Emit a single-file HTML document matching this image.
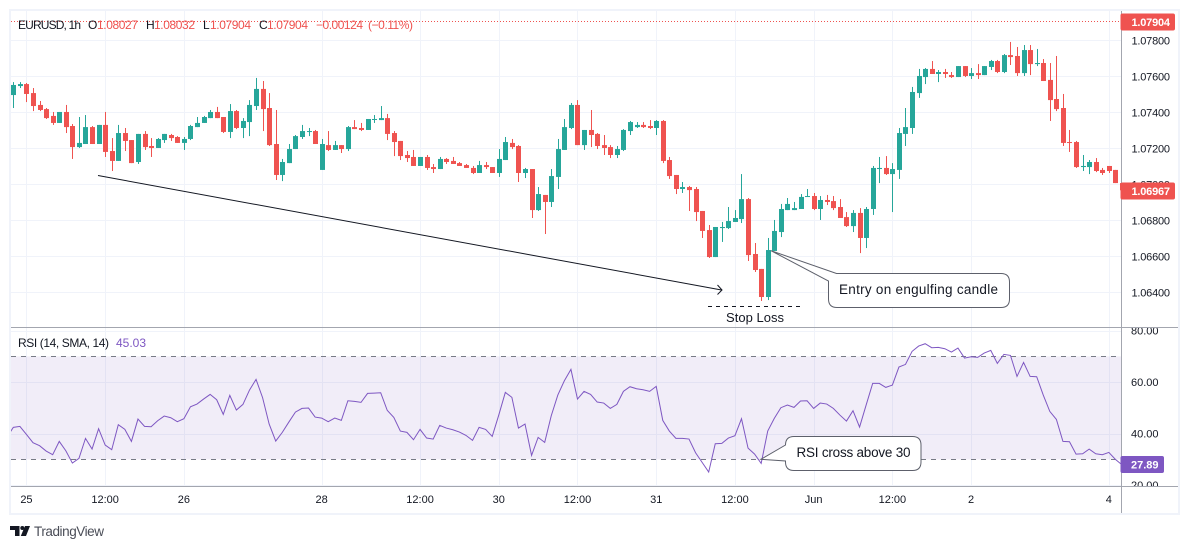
<!DOCTYPE html>
<html lang="en">
<head>
<meta charset="utf-8">
<title>EURUSD 1h chart with RSI</title>
<style>
html,body{margin:0;padding:0;background:#fff;width:1189px;height:549px;overflow:hidden}
svg{display:block;font-family:"Liberation Sans",sans-serif}
</style>
</head>
<body>
<svg id="chart" xmlns="http://www.w3.org/2000/svg" width="1189" height="549" viewBox="0 0 1189 549">
  <defs>
    <clipPath id="mainClip"><rect x="11" y="11" width="1110" height="316"/></clipPath>
    <clipPath id="rsiClip"><rect x="11" y="328" width="1110" height="158"/></clipPath>
    <clipPath id="rsiAxisClip"><rect x="1122" y="328" width="56" height="158"/></clipPath>
  </defs>
  <rect x="0" y="0" width="1189" height="549" fill="#ffffff"/>
  <g id="gridLayer"></g>
  <rect id="rsiBand" x="11" width="1110" fill="#7e57c2" fill-opacity="0.11"/>
  <line id="rsiUpper" x1="11" x2="1121" stroke="#787b86" stroke-dasharray="5 5"/>
  <line id="rsiLower" x1="11" x2="1121" stroke="#787b86" stroke-dasharray="5 5"/>
  <line x1="11" x2="1121" y1="21.5" y2="21.5" stroke="#ef5350" stroke-dasharray="1 2"/>
  <g id="candleLayer" clip-path="url(#mainClip)"></g>
  <g clip-path="url(#rsiClip)"><path id="rsiLine" fill="none" stroke="#7e57c2" stroke-width="1"/></g>

  <g font-size="12">
    <text x="18" y="29" textLength="63" fill="#131722">EURUSD, 1h</text>
    <text x="88" y="29" fill="#131722">O</text><text x="97" y="29" textLength="41" fill="#ef5350">1.08027</text>
    <text x="146" y="29" fill="#131722">H</text><text x="154" y="29" textLength="41" fill="#ef5350">1.08032</text>
    <text x="203" y="29" fill="#131722">L</text><text x="210" y="29" textLength="41" fill="#ef5350">1.07904</text>
    <text x="259" y="29" fill="#131722">C</text><text x="267" y="29" textLength="41" fill="#ef5350">1.07904</text>
    <text x="316" y="29" textLength="47" fill="#ef5350">−0.00124</text>
    <text x="368" y="29" textLength="45" fill="#ef5350">(−0.11%)</text>
  </g>
  <g font-size="12">
    <text x="18" y="347" textLength="91" fill="#131722">RSI (14, SMA, 14)</text>
    <text x="116" y="347" textLength="30" fill="#7e57c2">45.03</text>
  </g>

  <line x1="11" x2="1178" y1="327.5" y2="327.5" stroke="#a3a6af"/>
  <line x1="11" x2="1178" y1="486.5" y2="486.5" stroke="#a3a6af"/>
  <line x1="1121.5" x2="1121.5" y1="11" y2="513" stroke="#a3a6af"/>
  <g id="priceAxis" font-size="11" fill="#131722"></g>
  <g id="rsiAxis" font-size="11" fill="#131722" clip-path="url(#rsiAxisClip)"></g>
  <g id="timeAxis" font-size="11" fill="#131722" text-anchor="middle"></g>

  <g id="tags"></g>

  <g fill="none" stroke="#131722" stroke-width="1">
    <line x1="98" y1="175.5" x2="721.5" y2="290"/>
    <polyline points="717.5,285 722,290 717.5,294.5"/>
  </g>
  <line x1="708" x2="801" y1="306.5" y2="306.5" stroke="#131722" stroke-dasharray="4 4"/>
  <text x="726" y="322" font-size="13" textLength="58" fill="#131722">Stop Loss</text>

  <g>
    <path d="M836.5 273.5 H1001 Q1009.5 273.5 1009.5 282 V299 Q1009.5 307.5 1001 307.5 H837 Q828.5 307.5 828.5 299 V281 L771 250.7 Z" fill="#ffffff" stroke="#5d606b" stroke-width="1"/>
    <text x="839" y="294" font-size="13.5" textLength="159" fill="#131722">Entry on engulfing candle</text>
  </g>
  <g>
    <path d="M785.5 445 Q785.5 436.5 794 436.5 H912.5 Q921 436.5 921 445 V462 Q921 470.5 912.5 470.5 H794 Q785.5 470.5 785.5 462 V461 L761 459.3 Z" fill="#ffffff" stroke="#5d606b" stroke-width="1"/>
    <text x="796.5" y="457" font-size="13.5" textLength="114" fill="#131722">RSI cross above 30</text>
  </g>

  <rect x="10" y="10" width="1169" height="504" fill="none" stroke="#f0f3fa" stroke-width="2"/>

  <g>
    <path d="M10 526 H19.5 V536 H15 V530 H10 Z" fill="#131722"/>
    <circle cx="22.3" cy="528" r="2" fill="#131722"/>
    <path d="M25 526 H30 L26 536 H20.8 Z" fill="#131722"/>
    <text x="34" y="536" font-size="13.5" textLength="70" fill="#4a4d57">TradingView</text>
  </g>
</svg>
<script>
const opens = [
1.07496,1.07546,1.07557,1.07507,1.07441,1.07418,1.07380,1.07341,1.07402,1.07324,
1.07207,1.07224,1.07318,1.07224,1.07330,1.07185,1.07130,1.07285,1.07246,1.07124,
1.07280,1.07213,1.07202,1.07246,1.07274,1.07263,1.07230,1.07252,1.07318,1.07341,
1.07368,1.07402,1.07374,1.07291,1.07407,1.07313,1.07346,1.07435,1.07530,1.07424,
1.07224,1.07052,1.07118,1.07196,1.07263,1.07293,1.07296,1.07080,1.07218,1.07191,
1.07218,1.07196,1.07318,1.07313,1.07302,1.07359,1.07357,1.07368,1.07285,1.07241,
1.07163,1.07152,1.07102,1.07152,1.07096,1.07085,1.07141,1.07130,1.07118,1.07107,
1.07091,1.07063,1.07107,1.07096,1.07063,1.07135,1.07230,1.07213,1.07063,1.07085,
1.06857,1.06941,1.06902,1.07041,1.07191,1.07313,1.07441,1.07218,1.07302,1.07280,
1.07218,1.07207,1.07163,1.07191,1.07296,1.07318,1.07330,1.07324,1.07313,1.07352,
1.07135,1.07052,1.06974,1.06985,1.06974,1.06852,1.06746,1.06596,1.06757,1.06757,
1.06791,1.06807,1.06918,1.06613,1.06530,1.06374,1.06630,1.06735,1.06857,1.06857,
1.06863,1.06932,1.06935,1.06863,1.06913,1.06907,1.06874,1.06818,1.06768,1.06841,
1.06702,1.06863,1.07085,1.07091,1.07057,1.07080,1.07280,1.07313,1.07507,1.07596,
1.07641,1.07613,1.07624,1.07607,1.07596,1.07657,1.07602,1.07618,1.07607,1.07652,
1.07685,1.07624,1.07718,1.07713,1.07618,1.07746,1.07668,1.07674,1.07580,1.07474,
1.07424,1.07235,1.07235,1.07096,1.07096,1.07124,1.07080,1.07102,1.07080,1.07007];
const highs = [
1.07568,1.07568,1.07563,1.07535,1.07463,1.07424,1.07402,1.07402,1.07441,1.07335,
1.07374,1.07385,1.07324,1.07330,1.07402,1.07257,1.07330,1.07313,1.07246,1.07280,
1.07296,1.07257,1.07257,1.07280,1.07280,1.07268,1.07263,1.07330,1.07374,1.07380,
1.07413,1.07430,1.07374,1.07446,1.07413,1.07368,1.07468,1.07591,1.07574,1.07507,
1.07413,1.07141,1.07224,1.07274,1.07330,1.07313,1.07302,1.07252,1.07296,1.07241,
1.07218,1.07324,1.07357,1.07341,1.07363,1.07385,1.07435,1.07391,1.07296,1.07241,
1.07185,1.07191,1.07152,1.07163,1.07113,1.07152,1.07146,1.07152,1.07124,1.07113,
1.07102,1.07130,1.07124,1.07096,1.07196,1.07263,1.07252,1.07218,1.07091,1.07085,
1.06985,1.06941,1.07085,1.07252,1.07363,1.07452,1.07468,1.07302,1.07413,1.07285,
1.07274,1.07218,1.07213,1.07307,1.07352,1.07346,1.07346,1.07357,1.07357,1.07357,
1.07152,1.07052,1.07013,1.06991,1.06985,1.06852,1.06774,1.06763,1.06791,1.06874,
1.06857,1.07057,1.06924,1.06674,1.06530,1.06702,1.06802,1.06891,1.06924,1.06902,
1.06946,1.06974,1.06952,1.06935,1.06941,1.06935,1.06918,1.06846,1.06857,1.06868,
1.06874,1.07102,1.07152,1.07157,1.07118,1.07313,1.07424,1.07541,1.07641,1.07646,
1.07685,1.07635,1.07641,1.07624,1.07657,1.07657,1.07646,1.07668,1.07657,1.07691,
1.07691,1.07724,1.07791,1.07763,1.07774,1.07774,1.07752,1.07696,1.07674,1.07713,
1.07502,1.07302,1.07241,1.07163,1.07135,1.07146,1.07091,1.07102,1.07080,1.07007];
const lows = [
1.07424,1.07535,1.07457,1.07407,1.07407,1.07363,1.07330,1.07341,1.07285,1.07141,
1.07202,1.07224,1.07224,1.07224,1.07152,1.07074,1.07130,1.07185,1.07118,1.07113,
1.07191,1.07152,1.07202,1.07230,1.07241,1.07230,1.07191,1.07246,1.07318,1.07341,
1.07368,1.07368,1.07285,1.07257,1.07307,1.07257,1.07268,1.07413,1.07296,1.07213,
1.07024,1.07018,1.07118,1.07196,1.07252,1.07268,1.07224,1.07080,1.07185,1.07191,
1.07174,1.07185,1.07307,1.07296,1.07302,1.07341,1.07357,1.07246,1.07157,1.07135,
1.07124,1.07102,1.07102,1.07080,1.07063,1.07085,1.07113,1.07113,1.07102,1.07091,
1.07057,1.07063,1.07085,1.07063,1.07041,1.07135,1.07196,1.07013,1.07035,1.06813,
1.06852,1.06724,1.06874,1.06974,1.07191,1.07307,1.07218,1.07191,1.07207,1.07196,
1.07163,1.07146,1.07146,1.07185,1.07274,1.07313,1.07313,1.07307,1.07274,1.07118,
1.07030,1.06946,1.06952,1.06852,1.06796,1.06702,1.06591,1.06596,1.06680,1.06752,
1.06791,1.06785,1.06574,1.06513,1.06352,1.06357,1.06630,1.06707,1.06857,1.06857,
1.06863,1.06930,1.06857,1.06802,1.06885,1.06857,1.06813,1.06763,1.06735,1.06618,
1.06646,1.06830,1.07007,1.07052,1.06846,1.07030,1.07213,1.07280,1.07480,1.07557,
1.07613,1.07568,1.07591,1.07591,1.07596,1.07596,1.07585,1.07585,1.07607,1.07635,
1.07618,1.07618,1.07663,1.07602,1.07602,1.07607,1.07657,1.07574,1.07352,1.07407,
1.07213,1.07180,1.07091,1.07074,1.07057,1.07068,1.07052,1.07063,1.07007,1.06967];
const closes = [
1.07552,1.07557,1.07502,1.07435,1.07413,1.07368,1.07341,1.07402,1.07318,1.07207,
1.07230,1.07318,1.07224,1.07330,1.07180,1.07130,1.07285,1.07241,1.07118,1.07280,
1.07207,1.07202,1.07252,1.07280,1.07257,1.07230,1.07252,1.07324,1.07341,1.07374,
1.07402,1.07368,1.07291,1.07407,1.07313,1.07352,1.07441,1.07530,1.07418,1.07218,
1.07052,1.07124,1.07196,1.07268,1.07296,1.07296,1.07224,1.07224,1.07191,1.07218,
1.07196,1.07318,1.07307,1.07302,1.07363,1.07363,1.07368,1.07280,1.07235,1.07157,
1.07146,1.07102,1.07152,1.07091,1.07085,1.07141,1.07124,1.07113,1.07102,1.07091,
1.07063,1.07107,1.07096,1.07063,1.07141,1.07235,1.07207,1.07063,1.07085,1.06857,
1.06946,1.06902,1.07046,1.07196,1.07318,1.07441,1.07218,1.07302,1.07274,1.07213,
1.07202,1.07163,1.07196,1.07302,1.07346,1.07330,1.07318,1.07313,1.07352,1.07130,
1.07046,1.06974,1.06985,1.06968,1.06846,1.06741,1.06596,1.06763,1.06763,1.06796,
1.06813,1.06918,1.06607,1.06524,1.06374,1.06635,1.06741,1.06863,1.06891,1.06868,
1.06930,1.06935,1.06863,1.06913,1.06902,1.06868,1.06813,1.06768,1.06841,1.06702,
1.06863,1.07091,1.07091,1.07057,1.07085,1.07285,1.07318,1.07513,1.07602,1.07641,
1.07613,1.07624,1.07613,1.07596,1.07657,1.07602,1.07618,1.07607,1.07657,1.07685,
1.07624,1.07718,1.07707,1.07618,1.07746,1.07668,1.07674,1.07574,1.07468,1.07418,
1.07230,1.07230,1.07096,1.07102,1.07124,1.07074,1.07063,1.07074,1.07007,1.06967];
/* RSI has one extra leading value for the partly hidden bar left of the first visible candle */
const rsiValues = [
38.55,42.43,42.82,39.71,36.47,35.31,33.24,31.81,36.99,33.37,
28.58,30.39,38.16,34.01,41.91,35.57,33.76,43.46,41.65,36.99,
45.67,42.82,42.69,45.02,46.83,46.18,44.63,45.79,50.45,51.49,
53.43,55.24,53.17,47.48,54.86,49.16,51.36,56.93,61.07,53.95,
43.72,37.12,40.49,44.50,48.38,49.81,49.94,46.44,46.05,44.63,
46.05,45.15,52.78,52.53,52.14,55.63,55.76,55.89,49.03,46.31,
41.00,40.49,37.64,41.65,38.29,37.90,43.21,42.17,41.52,40.62,
39.32,37.38,42.43,41.65,38.93,47.22,56.02,54.08,42.17,43.72,
31.56,38.55,36.60,46.96,54.99,60.55,64.95,53.43,56.41,55.24,
52.27,51.88,49.81,51.36,56.41,58.22,57.44,57.06,56.41,58.35,
45.15,41.00,38.16,38.16,37.90,32.59,28.84,25.08,36.09,36.22,
38.29,39.19,45.79,34.40,32.07,28.45,41.00,45.92,50.07,51.10,
50.20,52.66,52.78,49.81,51.88,51.49,49.81,47.22,44.89,48.90,
42.56,51.10,59.52,59.52,57.96,58.87,65.86,66.89,71.94,74.01,
74.92,73.37,73.50,72.98,71.68,73.24,69.35,69.87,69.61,71.30,
72.33,67.28,70.78,70.39,62.23,67.67,62.23,62.11,54.99,48.64,
45.53,36.99,36.86,32.07,32.20,34.01,32.20,31.81,32.72,30.00,27.89];
const priceTicks = [1.078,1.076,1.074,1.072,1.070,1.068,1.066,1.064];
const rsiTicks = [80,60,40,20];
const rsiBandLevels = [70,30];
const timeLabels = ["25","12:00","26","28","12:00","30","12:00","31","12:00","Jun","12:00","2","4"];
const timeLabelBars = [2,14,26,47,62,74,86,98,110,122,134,146,167];
const lastPrice = 1.07904;
const currentPrice = 1.06967;
const currentRsi = 27.89;

const NS = "http://www.w3.org/2000/svg";
const xScale = i => 13.33 + 6.56 * i;
const yPrice = p => 40.33 + (1.078 - p) * 18000;
const yRsi = v => 356.4 + (70 - v) * 2.575;
function mk(tag, parent, attrs, text) {
  const el = document.createElementNS(NS, tag);
  for (const k in attrs) el.setAttribute(k, attrs[k]);
  if (text !== undefined) el.textContent = text;
  parent.appendChild(el);
  return el;
}
const gridLayer = document.getElementById("gridLayer");
priceTicks.forEach(p => {
  const y = Math.round(yPrice(p)) + 0.5;
  const el = mk("line", gridLayer, {x1: 11, x2: 1121, y1: y, y2: y, stroke: "#f0f3fa"});
  
  
});
rsiTicks.forEach(v => {
  const y = Math.round(yRsi(v)) + 0.5;
  if (y < 328 || y > 486) return;
  const el = mk("line", gridLayer, {x1: 11, x2: 1121, y1: y, y2: y, stroke: "#f0f3fa"});
  
  
});
timeLabelBars.forEach(b => {
  const x = Math.round(xScale(b)) + 0.5;
  const el = mk("line", gridLayer, {x1: x, x2: x, y1: 11, y2: 486, stroke: "#f0f3fa"});
  
  
});

const band = document.getElementById("rsiBand");
band.setAttribute("y", yRsi(rsiBandLevels[0]));
band.setAttribute("height", yRsi(rsiBandLevels[1]) - yRsi(rsiBandLevels[0]));
const upperY = Math.round(yRsi(rsiBandLevels[0])) + 0.5;
const lowerY = Math.round(yRsi(rsiBandLevels[1])) + 0.5;
document.getElementById("rsiUpper").setAttribute("y1", upperY);
document.getElementById("rsiUpper").setAttribute("y2", upperY);
document.getElementById("rsiLower").setAttribute("y1", lowerY);
document.getElementById("rsiLower").setAttribute("y2", lowerY);

const candleLayer = document.getElementById("candleLayer");
opens.forEach((o, i) => {
  const c = closes[i];
  const color = c >= o ? "#26a69a" : "#ef5350";
  const cx = Math.round(xScale(i));
  const top = yPrice(Math.max(o, c));
  const bot = yPrice(Math.min(o, c));
  const wick = mk("rect", candleLayer, {x: cx, y: yPrice(highs[i]), width: 1, height: Math.max(1, yPrice(lows[i]) - yPrice(highs[i])), fill: color});
  
  
  const body = mk("rect", candleLayer, {x: cx - 2, y: top, width: 5, height: Math.max(1, bot - top), fill: color});
  
  
});

document.getElementById("rsiLine").setAttribute("d",
  rsiValues.map((v, i) => (i ? "L" : "M") + xScale(i - 1).toFixed(2) + " " + yRsi(v).toFixed(2)).join(" "));

const priceAxis = document.getElementById("priceAxis");
priceTicks.forEach(p => {
  const t = mk("text", priceAxis, {x: 1131.5, y: yPrice(p) + 4, textLength: 38.5}, p.toFixed(5));
  
  
});
const rsiAxis = document.getElementById("rsiAxis");
rsiTicks.forEach(v => {
  const t = mk("text", rsiAxis, {x: 1131, y: yRsi(v) + 4, textLength: 27.5}, v.toFixed(2));
  
  
});
const timeAxis = document.getElementById("timeAxis");
timeLabels.forEach((label, i) => {
  const t = mk("text", timeAxis, {x: xScale(timeLabelBars[i]), y: 503}, label);
  
  
});

const tags = document.getElementById("tags");
function tag(yc, w, h, fill, label, tw, tx) {
  const r = mk("rect", tags, {x: 1120.5, y: yc - h / 2, width: w, height: h, rx: 2, fill: fill});
  
  
  const t = mk("text", tags, {x: tx, y: yc + 4, "font-size": 11, "font-weight": "bold", fill: "#ffffff", textLength: tw}, label);
  
  
}
tag(22, 54.5, 17, "#ef5350", lastPrice.toFixed(5), 38.5, 1131.5);
tag(191, 54.5, 17, "#ef5350", currentPrice.toFixed(5), 38.5, 1131.5);
tag(464.5, 43.5, 17, "#7e57c2", currentRsi.toFixed(2), 27.5, 1131);
</script>
</body>
</html>
